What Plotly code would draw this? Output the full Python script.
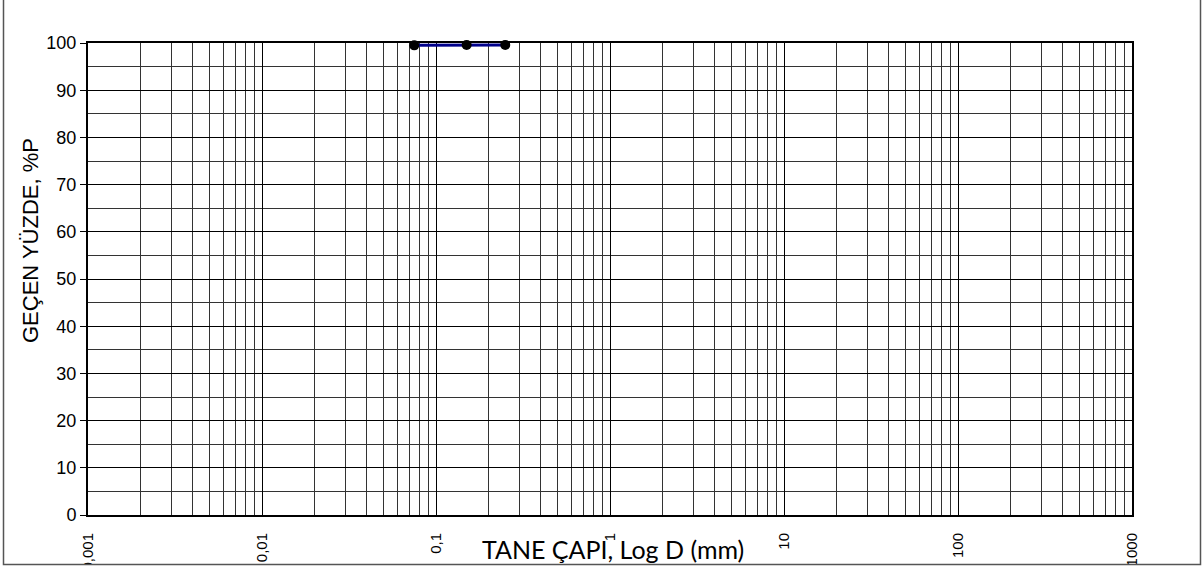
import plotly.graph_objects as go

# Data
sieve_mm = [0.075, 0.15, 0.25]
passing_pct = [99.5, 99.6, 99.6]
x_tickvals = [0.001, 0.01, 0.1, 1, 10, 100, 1000]
x_ticktext = ["0,001", "0,01", "0,1", "1", "10", "100", "1000"]
y_tickvals = [0, 10, 20, 30, 40, 50, 60, 70, 80, 90, 100]

W, H = 1204, 570
L, R, T, B = 88, 72, 43, 55
pw, ph = W - L - R, H - T - B

def px_x(x):
    return (x - L) / pw

def px_y(y):
    return (H - B - y) / ph

fig = go.Figure()
fig.add_trace(go.Scatter(
    x=sieve_mm, y=passing_pct, mode="lines+markers",
    line=dict(color="#00008B", width=3),
    marker=dict(color="black", size=10),
    showlegend=False, cliponaxis=False,
))

grid_col = "#333333"
fig.update_layout(
    width=W, height=H,
    margin=dict(l=L, r=R, t=T, b=B, autoexpand=False),
    paper_bgcolor="white", plot_bgcolor="white",
    font=dict(family="Liberation Sans, Arial", size=16, color="black"),
    xaxis=dict(
        type="log", range=[-3, 3], automargin=False,
        tickvals=x_tickvals, ticktext=x_ticktext, tickangle=-90,
        showgrid=True, gridcolor="black", gridwidth=1,
        minor=dict(dtick="D1", showgrid=True, gridcolor=grid_col, gridwidth=1, ticks=""),
        showline=True, linecolor="black", linewidth=2, mirror=True,
        ticks="", ticklabelstandoff=10, zeroline=False,
        tickfont=dict(size=15),
    ),
    yaxis=dict(
        range=[0, 100], tickvals=y_tickvals, automargin=False,
        showgrid=True, gridcolor="black", gridwidth=1,
        minor=dict(dtick=5, showgrid=True, gridcolor=grid_col, gridwidth=1, ticks=""),
        showline=True, linecolor="black", linewidth=2, mirror=True,
        ticks="outside", ticklen=6, tickcolor="black", zeroline=False,
        tickfont=dict(size=18),
    ),
    annotations=[
        dict(text="GEÇEN YÜZDE, %P", xref="paper", yref="paper",
             x=px_x(30), y=px_y(241), textangle=-90, showarrow=False,
             font=dict(family="Liberation Sans, Arial", size=22, color="black"),
             xanchor="center", yanchor="middle"),
        dict(text="TANE ÇAPI, Log D (mm)", xref="paper", yref="paper",
             x=px_x(613), y=px_y(549), showarrow=False,
             font=dict(family="Lato, Carlito, sans-serif", size=25, color="black"),
             xanchor="center", yanchor="middle"),
    ],
    shapes=[
        dict(type="rect", xref="paper", yref="paper", layer="above",
             x0=px_x(-10), x1=px_x(W + 10), y0=px_y(H + 10), y1=px_y(565),
             fillcolor="white", line=dict(width=0)),
        dict(type="rect", xref="paper", yref="paper", layer="above",
             x0=px_x(3.5), x1=px_x(1200.5), y0=px_y(564.5), y1=px_y(-2),
             line=dict(color="#555555", width=1.5)),
    ],
)

fig.write_html(
    "out.html",
    config={"displayModeBar": False},
    post_script="document.body.style.margin='0';document.body.style.overflow='hidden';",
)
